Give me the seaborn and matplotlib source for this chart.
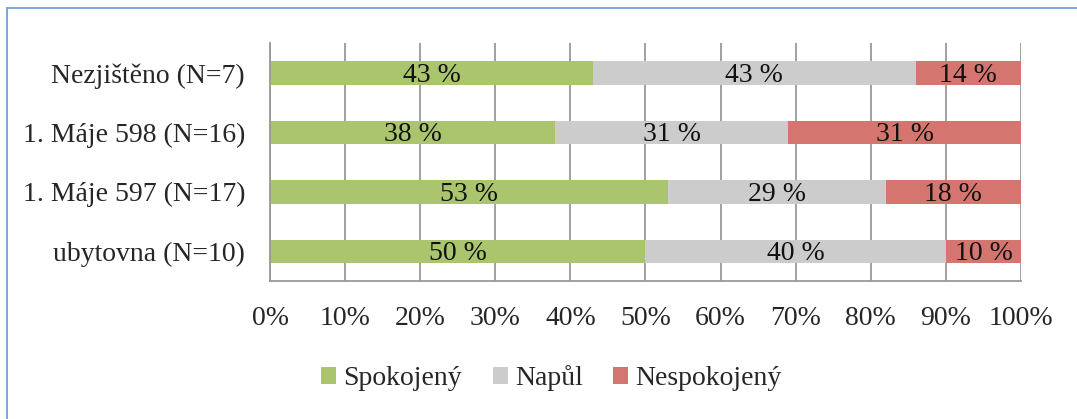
import pandas as pd
import seaborn as sns
import matplotlib.pyplot as plt
from matplotlib.lines import Line2D
from matplotlib.patches import Patch

# Data
groups = ['Nezjištěno (N=7)', '1. Máje 598 (N=16)', '1. Máje 597 (N=17)', 'ubytovna (N=10)']
spokojeny = [43, 38, 53, 50]
napul = [43, 31, 29, 40]
nespokojeny = [14, 31, 18, 10]
series = ['Spokojený', 'Napůl', 'Nespokojený']
colors = ['#abc56e', '#cccccc', '#d4766f']

df = pd.DataFrame({'group': groups, 'Spokojený': spokojeny,
                   'Napůl': napul, 'Nespokojený': nespokojeny})
# cumulative ends for stacking
df['c1'] = df['Spokojený']
df['c2'] = df['c1'] + df['Napůl']
df['c3'] = df['c2'] + df['Nespokojený']

sns.set_style('white')
plt.rcParams['font.family'] = ['Liberation Serif', 'DejaVu Serif']
fs = 20

fig = plt.figure(figsize=(10.77, 4.19), dpi=100)
ax = fig.add_axes([0.2507, 0.329, 0.6973, 0.568])

# draw from the longest cumulative bar to the shortest
for col, c in zip(['c3', 'c2', 'c1'], colors[::-1]):
    sns.barplot(data=df, x=col, y='group', order=groups, color=c,
                width=0.4, orient='h', ax=ax, saturation=1, edgecolor='none')

# segment labels
starts = [[0] * 4, list(df['c1']), list(df['c2'])]
vals = [spokojeny, napul, nespokojeny]
for st, vs in zip(starts, vals):
    for i, (s, v) in enumerate(zip(st, vs)):
        ax.text(s + v / 2, i + 0.04, f'{v} %', ha='center', va='center', fontsize=fs, color='#111111')

ax.set_xlim(0, 100)
ax.set_ylim(3.5, -0.5)
ax.set_xticks(range(0, 101, 10))
ax.set_xticklabels([f'{t}%' for t in range(0, 101, 10)], fontsize=fs)
ax.set_yticks(range(4))
ax.set_yticklabels(groups, fontsize=fs)
ax.set_yticks([-0.5, 0.5, 1.5, 2.5, 3.5], minor=True)
ax.tick_params(axis='y', which='major', length=0, pad=18)
ax.tick_params(axis='y', which='minor', length=6, color='#999999', width=1.3, direction='out')
ax.tick_params(axis='x', length=6, color='#999999', width=1.3, direction='out', pad=12)
ax.set_xlabel('')
ax.set_ylabel('')
ax.xaxis.grid(True, color='#999999', linewidth=1.3)
ax.set_axisbelow(True)
for s in ['top', 'right']:
    ax.spines[s].set_visible(False)
for s in ['left', 'bottom']:
    ax.spines[s].set_color('#999999')
    ax.spines[s].set_linewidth(1.3)

handles = [Patch(facecolor=c, edgecolor='none') for c in colors]
fig.legend(handles, series, loc='center', bbox_to_anchor=(0.512, 0.097), ncol=3,
           frameon=False, fontsize=fs, handlelength=0.55, handleheight=0.55,
           handletextpad=0.25, columnspacing=1.1)

# light blue frame edge
fig.add_artist(Line2D([7 / 1077, 1], [1 - 8 / 419, 1 - 8 / 419], color='#6fa0d6', linewidth=1.3))
fig.add_artist(Line2D([7 / 1077, 7 / 1077], [0, 1 - 8 / 419], color='#6fa0d6', linewidth=1.3))

fig.savefig('out.png', dpi=100)
